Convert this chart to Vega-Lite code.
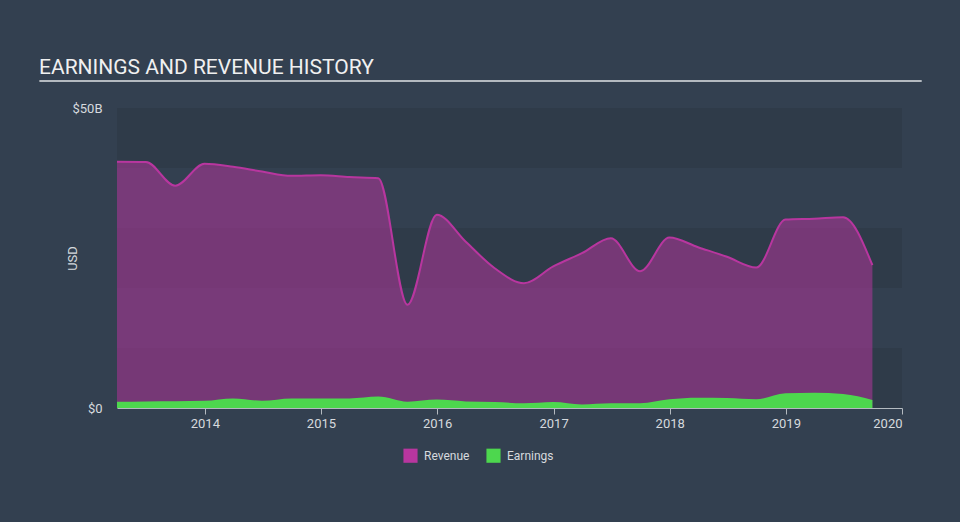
{
  "$schema": "https://vega.github.io/schema/vega-lite/v6.json",
  "width": 785,
  "height": 300,
  "autosize": {"type": "none"},
  "padding": {"left": 117, "top": 108, "right": 58, "bottom": 114},
  "background": "#334050",
  "config": {
    "font": "Roboto",
    "view": {"stroke": null, "fill": "#334050"},
    "axis": {"grid": false, "labelFont": "Roboto", "titleFont": "Roboto"}
  },
  "title": {
    "text": "EARNINGS AND REVENUE HISTORY",
    "anchor": "start",
    "frame": "group",
    "dx": -78,
    "offset": 2,
    "fontSize": 21,
    "font": "Roboto",
    "fontWeight": "normal",
    "color": "#f0f0f0"
  },
  "datasets": {
    "bands": [
      {"lo": 0, "hi": 10},
      {"lo": 20, "hi": 30},
      {"lo": 40, "hi": 50}
    ],
    "header": [
      {"d1": "2012-07-30", "d2": "2020-03-03", "v": 54.5}
    ],
    "series": [
      {"date": "2013-03-31", "series": "Revenue", "value": 41.05},
      {"date": "2013-06-30", "series": "Revenue", "value": 41.0},
      {"date": "2013-09-30", "series": "Revenue", "value": 37.05},
      {"date": "2013-12-31", "series": "Revenue", "value": 40.7},
      {"date": "2014-03-31", "series": "Revenue", "value": 40.2},
      {"date": "2014-06-30", "series": "Revenue", "value": 39.4},
      {"date": "2014-09-30", "series": "Revenue", "value": 38.7},
      {"date": "2014-12-31", "series": "Revenue", "value": 38.8},
      {"date": "2015-03-31", "series": "Revenue", "value": 38.5},
      {"date": "2015-06-30", "series": "Revenue", "value": 38.3},
      {"date": "2015-09-30", "series": "Revenue", "value": 17.2},
      {"date": "2015-12-31", "series": "Revenue", "value": 32.2},
      {"date": "2016-03-31", "series": "Revenue", "value": 27.7},
      {"date": "2016-06-30", "series": "Revenue", "value": 23.3},
      {"date": "2016-09-30", "series": "Revenue", "value": 20.8},
      {"date": "2016-12-31", "series": "Revenue", "value": 23.6},
      {"date": "2017-03-31", "series": "Revenue", "value": 25.8},
      {"date": "2017-06-30", "series": "Revenue", "value": 28.3},
      {"date": "2017-09-30", "series": "Revenue", "value": 22.8},
      {"date": "2017-12-31", "series": "Revenue", "value": 28.4},
      {"date": "2018-03-31", "series": "Revenue", "value": 26.8},
      {"date": "2018-06-30", "series": "Revenue", "value": 25.2},
      {"date": "2018-09-30", "series": "Revenue", "value": 23.4},
      {"date": "2018-12-31", "series": "Revenue", "value": 31.4},
      {"date": "2019-03-31", "series": "Revenue", "value": 31.55},
      {"date": "2019-06-30", "series": "Revenue", "value": 31.8},
      {"date": "2019-09-30", "series": "Revenue", "value": 23.8},
      {"date": "2013-03-31", "series": "Earnings", "value": 1.05},
      {"date": "2013-06-30", "series": "Earnings", "value": 1.1},
      {"date": "2013-09-30", "series": "Earnings", "value": 1.13},
      {"date": "2013-12-31", "series": "Earnings", "value": 1.2},
      {"date": "2014-03-31", "series": "Earnings", "value": 1.6},
      {"date": "2014-06-30", "series": "Earnings", "value": 1.2},
      {"date": "2014-09-30", "series": "Earnings", "value": 1.6},
      {"date": "2014-12-31", "series": "Earnings", "value": 1.6},
      {"date": "2015-03-31", "series": "Earnings", "value": 1.6},
      {"date": "2015-06-30", "series": "Earnings", "value": 1.9},
      {"date": "2015-09-30", "series": "Earnings", "value": 1.05},
      {"date": "2015-12-31", "series": "Earnings", "value": 1.4},
      {"date": "2016-03-31", "series": "Earnings", "value": 1.1},
      {"date": "2016-06-30", "series": "Earnings", "value": 1.0},
      {"date": "2016-09-30", "series": "Earnings", "value": 0.78},
      {"date": "2016-12-31", "series": "Earnings", "value": 1.0},
      {"date": "2017-03-31", "series": "Earnings", "value": 0.6},
      {"date": "2017-06-30", "series": "Earnings", "value": 0.78},
      {"date": "2017-09-30", "series": "Earnings", "value": 0.8},
      {"date": "2017-12-31", "series": "Earnings", "value": 1.45},
      {"date": "2018-03-31", "series": "Earnings", "value": 1.7},
      {"date": "2018-06-30", "series": "Earnings", "value": 1.65},
      {"date": "2018-09-30", "series": "Earnings", "value": 1.45},
      {"date": "2018-12-31", "series": "Earnings", "value": 2.45},
      {"date": "2019-03-31", "series": "Earnings", "value": 2.55},
      {"date": "2019-06-30", "series": "Earnings", "value": 2.33},
      {"date": "2019-09-30", "series": "Earnings", "value": 1.33}
    ]
  },
  "layer": [
    {
      "data": {"name": "bands"},
      "mark": {"type": "rect", "color": "#2f3b49"},
      "encoding": {
        "y": {
          "field": "lo", "type": "quantitative",
          "scale": {"domain": [0, 50], "nice": false},
          "axis": {
            "values": [0, 50],
            "labelExpr": "datum.value == 0 ? '$0' : '$' + datum.value + 'B'",
            "domain": false, "ticks": false,
            "labelColor": "#d6dade", "labelFontSize": 13, "labelPadding": 15,
            "title": "USD", "titleColor": "#d6dade", "titleFontSize": 13,
            "titleFontWeight": "normal", "titleX": -38
          }
        },
        "y2": {"field": "hi"}
      }
    },
    {
      "data": {"name": "header"},
      "mark": {"type": "rule", "color": "#b4bac0", "strokeWidth": 2, "clip": false},
      "encoding": {
        "x": {"field": "d1", "type": "temporal"},
        "x2": {"field": "d2"},
        "y": {"field": "v", "type": "quantitative"}
      }
    },
    {
      "data": {"name": "series"},
      "transform": [{"filter": "datum.series == 'Revenue'"}],
      "mark": {"type": "area", "interpolate": "monotone", "fillOpacity": 0.52, "line": {"strokeWidth": 2}},
      "encoding": {
        "x": {
          "field": "date", "type": "temporal",
          "scale": {"domain": ["2013-03-31", "2020-01-01"], "nice": false},
          "axis": {
            "values": ["2014-01-01", "2015-01-01", "2016-01-01", "2017-01-01", "2018-01-01", "2019-01-01", "2020-01-01"],
            "format": "%Y",
            "domainColor": "#b4bac0", "tickColor": "#b4bac0", "tickSize": 6,
            "labelColor": "#d6dade", "labelFontSize": 13, "labelPadding": 3,
            "title": null
          }
        },
        "y": {"field": "value", "type": "quantitative"},
        "color": {
          "field": "series", "type": "nominal",
          "scale": {"domain": ["Revenue", "Earnings"], "range": ["#b8369f", "#4dd74e"]},
          "legend": {
            "orient": "none", "legendX": 286, "legendY": 340,
            "direction": "horizontal", "title": null,
            "symbolType": "square", "symbolSize": 200, "symbolOpacity": 1,
            "symbolStrokeWidth": 0,
            "labelColor": "#d6dade", "labelFontSize": 12, "columnPadding": 16,
            "labelOffset": 6
          }
        }
      }
    },
    {
      "data": {"name": "series"},
      "transform": [{"filter": "datum.series == 'Earnings'"}],
      "mark": {"type": "area", "interpolate": "monotone", "fillOpacity": 1},
      "encoding": {
        "x": {"field": "date", "type": "temporal"},
        "y": {"field": "value", "type": "quantitative"},
        "color": {"field": "series", "type": "nominal"}
      }
    }
  ]
}
